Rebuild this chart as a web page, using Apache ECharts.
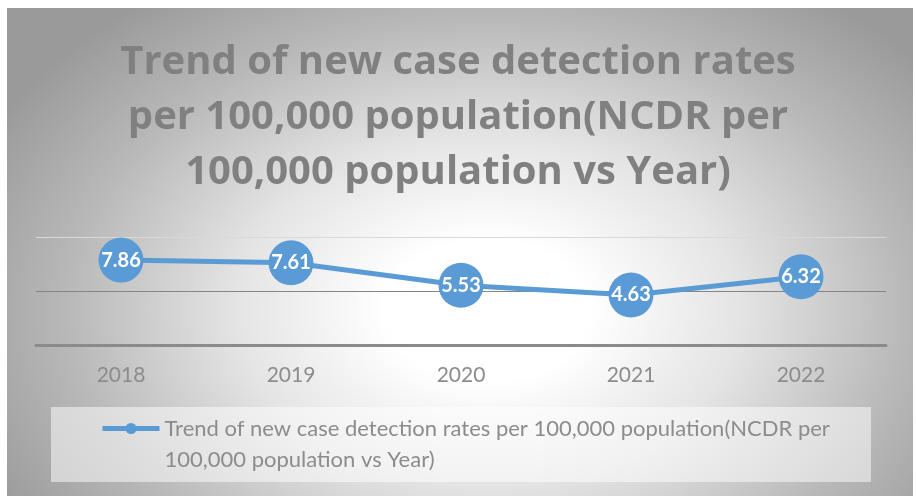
<!DOCTYPE html>
<html>
<head>
<meta charset="utf-8">
<script src="https://cdn.jsdelivr.net/npm/echarts@6/dist/echarts.min.js"></script>
<style>
  html, body { margin: 0; padding: 0; background: #ffffff; }
  #bg { position: absolute; left: 7px; top: 8px; width: 906px; height: 488px;
        background: radial-gradient(ellipse 62% 80% at 53% 62%, #ffffff 0%, #ffffff 18%, #e4e4e4 45%, #b8b8b8 75%, #9a9a9a 100%); }
  #chart { position: absolute; left: 0; top: 0; width: 916px; height: 496px; }
</style>
</head>
<body>
<div id="bg"></div>
<div id="chart"></div>
<script>
const categories = ['2018', '2019', '2020', '2021', '2022'];
const values = [7.86, 7.61, 5.53, 4.63, 6.32];
const seriesName = 'Trend of new case detection rates per 100,000 population(NCDR per 100,000 population vs Year)';
const titleText = 'Trend of new case detection rates\nper 100,000 population(NCDR per\n100,000 population vs Year)';
const legendLines = ['Trend of new case detection rates per 100,000 population(NCDR per', '100,000 population vs Year)'];

const chart = echarts.init(document.getElementById('chart'), null, { renderer: 'canvas' });
chart.setOption({
  backgroundColor: 'transparent',
  animation: false,
  title: {
    text: titleText,
    left: 'center',
    top: 35,
    padding: 0,
    textStyle: {
      fontFamily: 'Open Sans',
      fontWeight: 'bold',
      fontSize: 40,
      lineHeight: 55,
      color: '#808080'
    }
  },
  graphic: [{
    type: 'rect',
    shape: { x: 51, y: 407, width: 820, height: 75 },
    style: { fill: 'rgba(255,255,255,0.5)' },
    z: 0
  }],
  legend: {
    left: 100,
    top: 382,
    padding: 0,
    itemWidth: 57,
    itemHeight: 14,
    lineStyle: { width: 5 },
    formatter: function () { return '\n' + legendLines.join('\n'); },
    textStyle: {
      fontFamily: 'Lato',
      fontSize: 22,
      color: '#8c8c8c',
      lineHeight: 31
    },
    data: [seriesName]
  },
  grid: { left: 36, right: 30, top: 237, bottom: 151 },
  xAxis: {
    type: 'category',
    data: categories,
    boundaryGap: true,
    axisLine: { show: true, lineStyle: { color: '#8b8b8b', width: 3 } },
    axisTick: { show: false },
    axisLabel: { fontFamily: 'Lato', fontSize: 21, color: '#8c8c8c', margin: 20 }
  },
  yAxis: {
    type: 'value',
    min: 0, max: 10, interval: 5,
    axisLabel: { show: false },
    axisLine: { show: false },
    axisTick: { show: false },
    splitLine: { show: true, lineStyle: { color: ['#8b8b8b', '#858585', '#d9d9d9'], width: 1 } }
  },
  series: [{
    name: seriesName,
    type: 'line',
    data: values,
    symbol: 'circle',
    symbolSize: 45,
    itemStyle: { color: '#5b9bd5' },
    lineStyle: { color: '#5b9bd5', width: 5 },
    label: {
      show: true,
      position: 'inside',
      color: '#ffffff',
      fontFamily: 'Lato',
      fontWeight: 'bold',
      fontSize: 20
    },
    z: 3
  }]
});
</script>
</body>
</html>
